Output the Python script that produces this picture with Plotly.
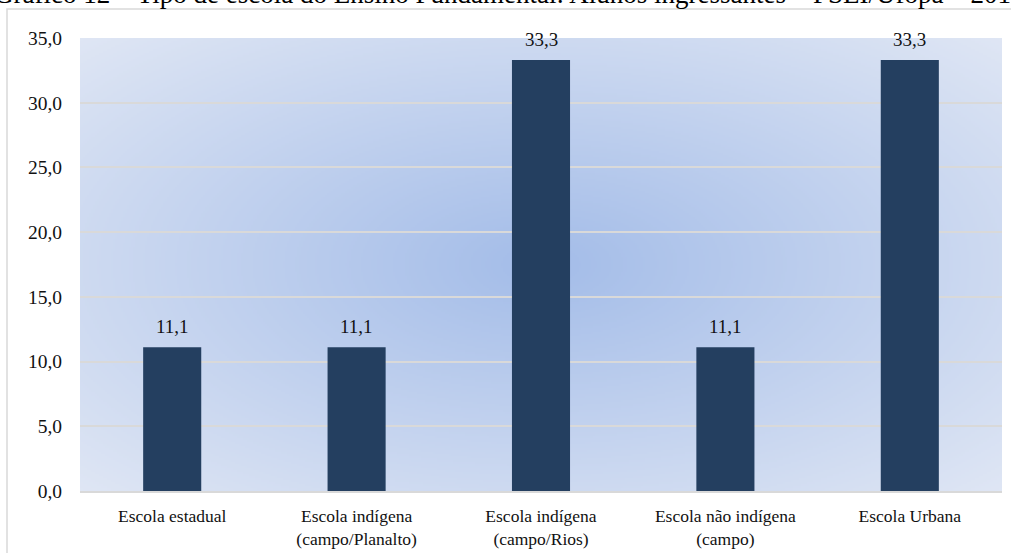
import base64
import struct
import zlib

import numpy as np
import plotly.graph_objects as go

# Data
categories = [
    "Escola estadual",
    "Escola indígena<br>(campo/Planalto)",
    "Escola indígena<br>(campo/Rios)",
    "Escola não indígena<br>(campo)",
    "Escola Urbana",
]
values = [11.1, 11.1, 33.3, 11.1, 33.3]
y_ticks = [0, 5, 10, 15, 20, 25, 30, 35]
title_text = "Gráfico 12 – Tipo de escola do Ensino Fundamental: Alunos ingressantes – FSEI/Ufopa – 2018"

BAR_COLOR = "#243f60"
GRID_COLOR = "#d9d9d9"
FONT = "Liberation Serif"
TEXT_COLOR = "#111111"


def radial_gradient_png(w, h, inner, outer):
    """Build a PNG data URI holding a radial gradient (centre -> corners)."""
    ys, xs = np.mgrid[0:h, 0:w]
    dx = (xs + 0.5 - w / 2) / (w / 2)
    dy = (ys + 0.5 - h / 2) / (h / 2)
    d = np.clip(np.sqrt(dx ** 2 + dy ** 2) / np.sqrt(2), 0, 1)
    inner = np.array(inner, dtype=float)
    outer = np.array(outer, dtype=float)
    img = inner[None, None, :] + (outer - inner)[None, None, :] * d[..., None]
    img = np.round(img).astype(np.uint8)
    raw = b"".join(b"\x00" + img[r].tobytes() for r in range(h))

    def chunk(tag, data):
        c = struct.pack(">I", len(data)) + tag + data
        return c + struct.pack(">I", zlib.crc32(tag + data) & 0xFFFFFFFF)

    png = b"\x89PNG\r\n\x1a\n"
    png += chunk(b"IHDR", struct.pack(">IIBBBBB", w, h, 8, 2, 0, 0, 0))
    png += chunk(b"IDAT", zlib.compress(raw, 9))
    png += chunk(b"IEND", b"")
    return "data:image/png;base64," + base64.b64encode(png).decode()


bg_src = radial_gradient_png(461, 227, (163, 188, 232), (223, 230, 244))

labels = [f"{v:.1f}".replace(".", ",") for v in values]

fig = go.Figure()
fig.add_trace(
    go.Bar(
        x=categories,
        y=values,
        marker=dict(color=BAR_COLOR, line=dict(width=0)),
        width=0.315,
        hoverinfo="skip",
    )
)

# value labels above bars
for cat, v, lab in zip(categories, values, labels):
    fig.add_annotation(
        x=cat, y=v, xref="x", yref="y",
        text=lab, showarrow=False,
        yanchor="bottom", yshift=8,
        font=dict(family=FONT, size=19, color=TEXT_COLOR),
    )

L, R, T, B = 80, 9, 38, 62
W, H = 1011, 553
pw, ph = W - L - R, H - T - B

# chart title (runs off the top edge)
fig.add_annotation(
    x=(509 - L) / pw, y=1.0, xref="paper", yref="paper",
    text=title_text, showarrow=False,
    xanchor="center", yanchor="bottom", yshift=27,
    font=dict(family=FONT, size=27, color="#000000"),
)

# outer chart frame
fig.add_shape(
    type="rect", xref="paper", yref="paper",
    x0=(7 - L) / pw, x1=1.2, y0=-0.3, y1=1 + (T - 9) / ph,
    line=dict(color=GRID_COLOR, width=1.5), fillcolor="rgba(0,0,0,0)",
    layer="below",
)

fig.add_layout_image(
    source=bg_src, xref="paper", yref="paper",
    x=0, y=1, sizex=1, sizey=1, sizing="stretch",
    xanchor="left", yanchor="top", layer="below",
)

fig.update_layout(
    width=W, height=H,
    margin=dict(l=L, r=R, t=T, b=B, autoexpand=False),
    paper_bgcolor="white",
    plot_bgcolor="rgba(0,0,0,0)",
    separators=",.",
    showlegend=False,
    bargap=0.685,
    font=dict(family=FONT, color=TEXT_COLOR),
)
fig.update_xaxes(
    automargin=False,
    showline=True, linecolor=GRID_COLOR, linewidth=2,
    ticks="", showgrid=False,
    ticklabelstandoff=8,
    tickfont=dict(family=FONT, size=17.5, color=TEXT_COLOR),
)
fig.update_yaxes(
    automargin=False,
    range=[0, 35], tickvals=y_ticks, tickformat=".1f",
    showgrid=True, gridcolor=GRID_COLOR, gridwidth=1.5,
    zeroline=False, showline=False, ticks="",
    ticklabelstandoff=17,
    tickfont=dict(family=FONT, size=19.5, color=TEXT_COLOR),
)

fig.write_html("out.html")
